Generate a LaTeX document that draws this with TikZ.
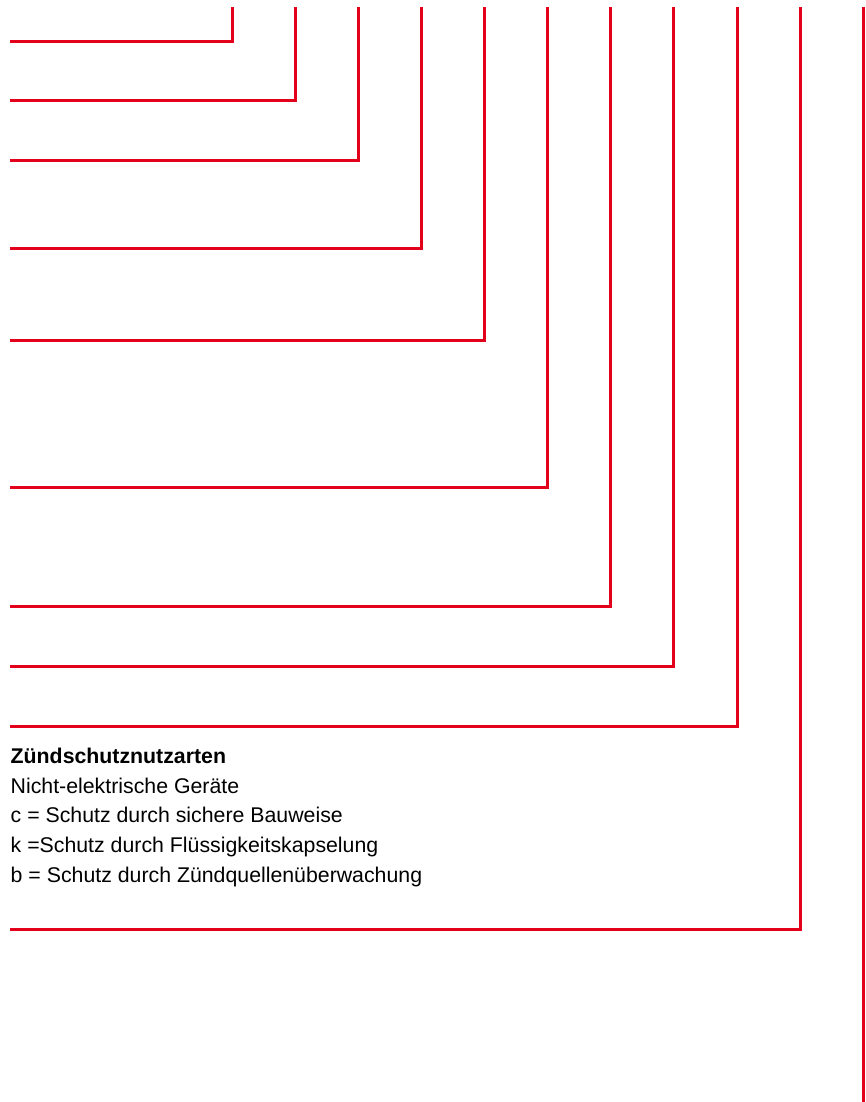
\documentclass[tikz,border=0pt]{standalone}
\usepackage{fontspec}
\setmainfont{Liberation Sans}
\definecolor{exred}{RGB}{226,0,26}
\begin{document}
\begin{tikzpicture}[x=1pt,y=-1pt,
  bracket/.style={draw=exred,line width=3pt,line join=miter,line cap=butt},
  txt/.style={anchor=base west,inner sep=0pt,font=\fontsize{21.3}{25}\selectfont,text=black}]
\useasboundingbox[fill=white] (0,0) rectangle (866,1102);
% corner brackets: vertical x, horizontal y
\foreach \i/\x/\y in {1/232/41.5,2/295/100.5,3/358/160.5,4/421/248,5/484/340.5,6/547/487.5,7/610/606,8/673.5/666,9/737/726,10/800/929.5}{
  \coordinate (t\i) at (\x,7);
  \coordinate (c\i) at (\x,\y);
  \coordinate (e\i) at (10,\y);
  \draw[bracket] (e\i) -- (c\i) -- (t\i);
}
\coordinate (t11) at (863,7);
\coordinate (b11) at (863,1102);
\draw[bracket] (t11) -- (b11);
% legend
\node[txt,font=\fontsize{21.3}{25}\selectfont\bfseries] (title) at (10.5,763) {Zündschutznutzarten};
\node[txt] (l1) at (10.5,793) {Nicht-elektrische Geräte};
\node[txt] (l2) at (10.5,822.5) {c = Schutz durch sichere Bauweise};
\node[txt] (l3) at (10.5,852) {k =Schutz durch Flüssigkeitskapselung};
\node[txt] (l4) at (10.5,882) {b = Schutz durch Zündquellenüberwachung};
\end{tikzpicture}
\end{document}
